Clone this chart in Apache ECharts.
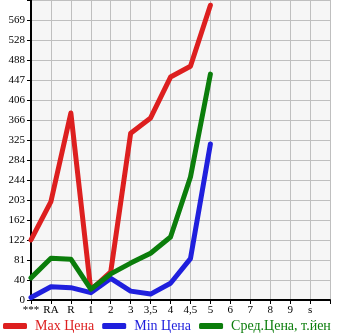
<!DOCTYPE html>
<html>
<head>
<meta charset="utf-8">
<script src="https://cdn.jsdelivr.net/npm/echarts@6/dist/echarts.min.js"></script>
<style>html,body{margin:0;padding:0;background:#fff}#c{width:345px;height:335px}</style>
</head>
<body>
<div id="c"></div>
<script>
var categories = ['***','RA','R','1','2','3','3,5','4','4,5','5','6','7','8','9','s',''];
var maxPrice = [122, 200, 380, 20, 57, 339, 370, 453, 475, 599];
var minPrice = [5, 27, 25, 15, 44, 18, 12, 34, 84, 317];
var avgPrice = [45, 85, 83, 22, 53, 75, 95, 128, 250, 459];
var yTickLabels = ['0','40','81','122','162','203','244','284','325','366','406','447','488','528','569',''];
var seriesNames = ['Max Цена','Min Цена','Сред.Цена, т.йен'];
var colors = ['#dd1f1f','#1f1fdd','#0b7d0b'];

var chart = echarts.init(document.getElementById('c'), null, {renderer:'canvas'});
var font = '"Liberation Serif","DejaVu Serif",serif';
function mk(name, data, color){
  return {name:name, type:'line', data:data, symbol:'none', smooth:false,
    lineStyle:{color:color, width:5, cap:'round', join:'round'}, itemStyle:{color:color}};
}
chart.setOption({
  animation:false,
  grid:{left:31, right:15, top:0, bottom:35, show:true, backgroundColor:'#f6f6f6', borderWidth:0},
  legend:{bottom:-3, left:-2, itemWidth:24, itemHeight:6, itemGap:8, icon:'roundRect',
    data:seriesNames.map(function(n,i){return {name:n, textStyle:{color:colors[i]}};}),
    textStyle:{fontFamily:font, fontSize:14, padding:[0,0,0,3]}},
  xAxis:{type:'category', data:categories, boundaryGap:false,
    axisLine:{lineStyle:{color:'#000', width:2}},
    axisTick:{show:true, length:4, lineStyle:{color:'#000'}},
    axisLabel:{color:'#000', fontFamily:font, fontSize:11, margin:5, interval:0},
    splitLine:{show:true, lineStyle:{color:'#bfbfbf', width:1}}},
  yAxis:{type:'value', min:0, max:609.6, interval:40.64,
    axisLine:{show:true, lineStyle:{color:'#000', width:2}},
    axisTick:{show:true, length:4, lineStyle:{color:'#000'}},
    axisLabel:{color:'#000', fontFamily:font, fontSize:11, margin:6,
      formatter:function(v, i){ return yTickLabels[Math.round(v/40.64)] || ''; }},
    splitLine:{show:true, lineStyle:{color:'#bfbfbf', width:1}}},
  series:[mk(seriesNames[0], maxPrice, colors[0]), mk(seriesNames[1], minPrice, colors[1]), mk(seriesNames[2], avgPrice, colors[2])]
});
</script>
</body>
</html>
